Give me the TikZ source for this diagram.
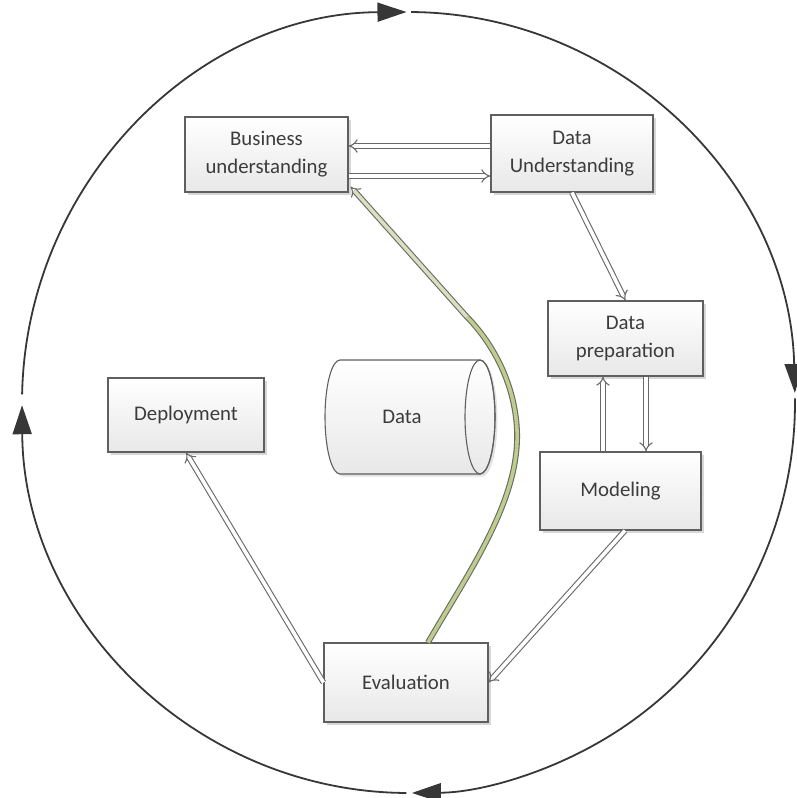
\documentclass[tikz,border=0pt]{standalone}
\usepackage{fontspec}
\setmainfont{Carlito}
\usetikzlibrary{arrows.meta,shadows,calc}
\definecolor{boxline}{RGB}{95,95,95}
\definecolor{txt}{RGB}{60,60,60}
\definecolor{ring}{RGB}{55,55,55}
\definecolor{arr}{RGB}{105,105,105}
\definecolor{greenfill}{RGB}{190,204,140}
\definecolor{greenpale}{RGB}{218,224,190}
\begin{document}
\begin{tikzpicture}[x=1pt,y=-1pt,
 box/.style={draw=boxline, line width=1.1pt, top color=white, bottom color=black!9, text=txt, align=center,
   font=\fontsize{20.8}{28}\selectfont, inner sep=0pt,
   drop shadow={shadow xshift=2.5pt, shadow yshift=-2.5pt, fill=black!35, opacity=0.45}},
 dbl/.style={draw=arr, line width=1.1pt, double=white, double distance=3.6pt, -{Implies[scale=1.3]}},
 gdbl/.style={draw=arr, line width=1.1pt, double=#1, double distance=3.6pt},
 ringarc/.style={draw=ring, line width=1.8pt, -{Triangle[length=29pt,width=19pt]}}]
\useasboundingbox (0,0) rectangle (797,798);

% outer cycle
\coordinate (c) at (408.5,402.5);
\draw[ringarc] (c) ++(178.8:386.5pt and 390.5pt) arc[start angle=178.8, end angle=90.3, x radius=386.5pt, y radius=390.5pt];
\draw[ringarc] (c) ++(89.6:386.5pt and 390.5pt) arc[start angle=89.6, end angle=1.4, x radius=386.5pt, y radius=390.5pt];
\draw[ringarc] (c) ++(0.6:386.5pt and 390.5pt) arc[start angle=0.6, end angle=-89.5, x radius=386.5pt, y radius=390.5pt];
\draw[ringarc] (c) ++(-90.3:386.5pt and 390.5pt) arc[start angle=-90.3, end angle=-179.6, x radius=386.5pt, y radius=390.5pt];

% boxes
\node[box, minimum width=163pt, minimum height=75pt] (bu) at (266.5,154.5) {Business\\understanding};
\node[box, minimum width=162pt, minimum height=77pt] (du) at (572,153.5) {Data\\Understanding};
\node[box, minimum width=155pt, minimum height=75pt] (dp) at (625.5,338.5) {Data\\preparation};
\node[box, minimum width=161pt, minimum height=78pt] (mo) at (620.5,491) {Modeling};
\node[box, minimum width=156pt, minimum height=74pt] (de) at (186,415) {Deployment};
\node[box, minimum width=164pt, minimum height=79pt] (ev) at (406,682.5) {Evaluation};

% data cylinder
\fill[black!25, opacity=0.45, shift={(2.5,2.5)}] (340,360) -- (480,360)
  arc[start angle=90, end angle=-90, x radius=15pt, y radius=57pt] -- (340,474)
  arc[start angle=270, end angle=90, x radius=15pt, y radius=57pt] -- cycle;
\path[draw=boxline, line width=1.1pt, top color=white, bottom color=black!9] (340,360) -- (480,360)
  arc[start angle=90, end angle=-90, x radius=15pt, y radius=57pt] -- (340,474)
  arc[start angle=270, end angle=90, x radius=15pt, y radius=57pt] -- cycle;
\draw[boxline, line width=1.1pt] (480,417) ellipse[x radius=15pt, y radius=57pt];
\node[text=txt, font=\fontsize{20.8}{28}\selectfont] (data) at (402,417) {Data};

% connectors
\draw[dbl] ([yshift=7.5pt]du.west) -- ([yshift=7.5pt]du.west -| bu.east);
\draw[dbl] ([yshift=-21.5pt]bu.east) -- ([yshift=-21.5pt]bu.east -| du.west);
\draw[dbl] (du.south) -- (dp.north);
\draw[dbl] ([xshift=-17.5pt]mo.north) -- ([xshift=-17.5pt]mo.north |- dp.south);
\draw[dbl] ([xshift=20.5pt]dp.south) -- ([xshift=20.5pt]dp.south |- mo.north);
\draw[dbl] ([xshift=4.5pt]mo.south) -- (ev.east);
\draw[dbl] (ev.west) -- (de.south);

% green feedback curve
\coordinate (gmid) at (467,317);
\draw[gdbl=greenfill] ([xshift=22pt]ev.north) .. controls (470,570) and (520,500) .. (517,430)
  .. controls (514,370) and (480,330) .. (gmid);
\draw[gdbl=greenpale, -{Implies[scale=1.3]}] (gmid) -- ([xshift=2pt,yshift=6pt]bu.south east);
\end{tikzpicture}
\end{document}
